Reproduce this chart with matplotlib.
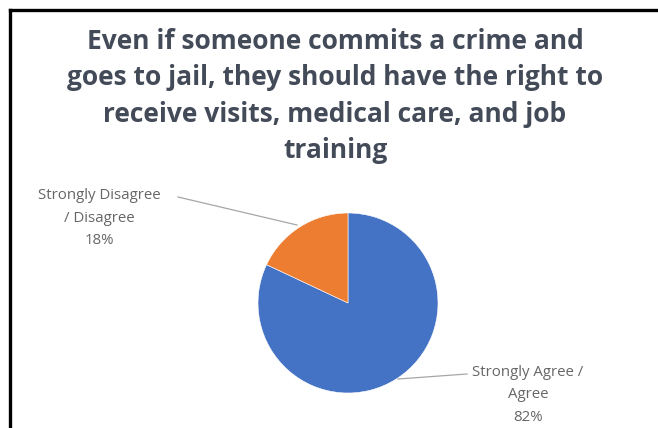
import matplotlib
matplotlib.use("Agg")
import matplotlib.pyplot as plt
from matplotlib.lines import Line2D

# Survey responses
categories = ["Strongly Agree /\nAgree", "Strongly Disagree\n/ Disagree"]
shares = [82, 18]
colors = ["#4472C4", "#ED7D31"]
title = ("Even if someone commits a crime and\n"
         "goes to jail, they should have the right to\n"
         "receive visits, medical care, and job\n"
         "training")

W, H = 658, 428
fig = plt.figure(figsize=(W / 100, H / 100), dpi=100)
fig.patch.set_facecolor("white")

# frame lines along the top and left
fig.add_artist(Line2D([9.5 / W, 1.0], [1 - 9.5 / H, 1 - 9.5 / H],
                      transform=fig.transFigure, color="black", lw=2.4))
fig.add_artist(Line2D([9.5 / W, 9.5 / W], [0.0, 1 - 9.5 / H],
                      transform=fig.transFigure, color="black", lw=2.4))

fig.text(335 / W, 1 - 96 / H, title, ha="center", va="center",
         fontsize=19, fontweight="bold", color="#434a58",
         family="Open Sans", linespacing=1.45)

# pie axes: centre (348, 303) px, radius 90 px
cx, cy, r = 348, 303, 90
ax = fig.add_axes([(cx - r) / W, (H - cy - r) / H, 2 * r / W, 2 * r / H])
wedges, _ = ax.pie(shares, colors=colors, startangle=90, counterclock=False,
                   radius=1.0, wedgeprops=dict(linewidth=0.4, edgecolor="white"))
ax.set_xlim(-1, 1)
ax.set_ylim(-1, 1)
ax.set_aspect("equal")
ax.axis("off")


def px(x, y):
    return ((x - cx) / r, (cy - y) / r)


label_color = "#666666"
label_kw = dict(textcoords="data", ha="center", va="center", fontsize=10.8,
                color=label_color, family="Open Sans", linespacing=1.65,
                annotation_clip=False)
# Agree label
ax.annotate(f"{categories[0]}\n{shares[0]}%", xy=px(398, 379), xytext=px(528, 395),
            **label_kw)
ax.add_line(Line2D(*zip(px(398, 379), px(467, 374)), color="#A6A6A6", lw=0.9,
                   clip_on=False))
# Disagree label
ax.annotate(f"{categories[1]}\n{shares[1]}%", xy=px(297, 225), xytext=px(99, 218),
            **label_kw)
ax.add_line(Line2D(*zip(px(297, 225), px(178, 197)), color="#A6A6A6", lw=0.9,
                   clip_on=False))

fig.savefig("out.png", dpi=100)
